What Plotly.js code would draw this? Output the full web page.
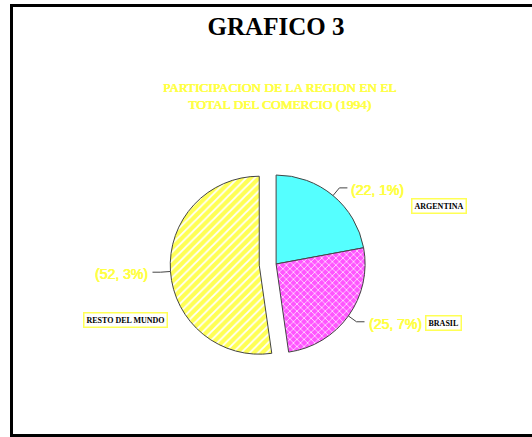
<!DOCTYPE html>
<html>
<head>
<meta charset="utf-8">
<script src="https://cdn.plot.ly/plotly-3.0.1.min.js"></script>
<style>
  html, body { margin: 0; padding: 0; background: #fff; overflow: hidden; }
  #frame { position: absolute; left: 10px; top: 4px; width: 600px; height: 427px;
           border-top: 3px solid #000; border-left: 3px solid #000; border-bottom: 3px solid #000; }
  #chart { position: absolute; left: 0; top: 0; width: 532px; height: 437px; }
</style>
</head>
<body>
<div id="frame"></div>
<div id="chart"></div>
<script>
// ---- data ----
const regions = ['ARGENTINA', 'BRASIL', 'RESTO DEL MUNDO'];
const shares = [22.1, 25.7, 52.3];
const sliceColors = ['#55ffff', '#ff55ff', '#ffff55'];
const slicePatterns = ['', 'x', '/'];
const slicePull = [0, 0, 0.19];
const chartTitle = 'GRAFICO 3';
const chartSubtitle = 'PARTICIPACION DE LA REGION EN EL<br>TOTAL DEL COMERCIO (1994)';

const shareText = shares.map(v => '(' + v.toFixed(1).replace('.', ', ') + '%)');

const W = 532, H = 437;
const dom = { x: [0.299, 0.739], y: [0.1535, 0.6382] };
const yellowText = '#ffff44';
const thicken = '0.5px 0 0 ' + yellowText + ', -0.3px 0 0 ' + yellowText;

const trace = {
  type: 'pie',
  labels: regions,
  values: shares,
  textinfo: 'none',
  sort: false,
  direction: 'clockwise',
  rotation: 0,
  pull: slicePull,
  marker: {
    colors: sliceColors,
    line: { color: '#444', width: 1 },
    pattern: {
      shape: slicePatterns,
      fgcolor: ['#ffffff', '#ffffff', '#ffffff'],
      bgcolor: sliceColors,
      size: [6, 5, 6],
      solidity: [0.2, 0.25, 0.3],
      fillmode: 'replace'
    }
  },
  domain: dom,
  hoverinfo: 'none'
};

// geometry of the pie as Plotly lays it out (centre, radius, pull)
const boxW = (dom.x[1] - dom.x[0]) * W, boxH = (dom.y[1] - dom.y[0]) * H;
const maxPull = Math.max(...slicePull);
const R = Math.min(boxW, boxH) / (2 + 2 * maxPull);
const CX = (dom.x[0] + dom.x[1]) / 2 * W;
const CY = H - (dom.y[0] + dom.y[1]) / 2 * H;
const total = shares.reduce((a, b) => a + b, 0);

const shapes = [];
const annotations = [];
let cum = 0;
shares.forEach((v, i) => {
  const mid = (cum + v / 2) / total * 2 * Math.PI;
  cum += v;
  const dx = Math.sin(mid), dy = -Math.cos(mid);
  const ox = CX + slicePull[i] * R * dx, oy = CY + slicePull[i] * R * dy;
  const px = ox + R * dx, py = oy + R * dy;
  const ex = px + 10 * dx, ey = py + 10 * dy;
  const side = dx >= 0 ? 1 : -1;
  const tx = ex + 8 * side, ty = ey;
  const fx = x => x / W, fy = y => 1 - y / H;
  shapes.push({
    type: 'path', xref: 'paper', yref: 'paper',
    path: `M ${fx(px)} ${fy(py)} L ${fx(ex)} ${fy(ey)} L ${fx(tx)} ${fy(ty)}`,
    line: { color: '#444', width: 1 }
  });
  annotations.push({
    text: shareText[i],
    xref: 'paper', yref: 'paper',
    x: fx(tx + 2 * side), y: fy(ty + 2),
    xanchor: side > 0 ? 'left' : 'right', yanchor: 'middle',
    showarrow: false,
    font: { family: 'Liberation Sans', size: 14, color: yellowText, shadow: thicken }
  });
});

const boxPos = { 'ARGENTINA': [0.826, 0.5275], 'BRASIL': [0.834, 0.261], 'RESTO DEL MUNDO': [0.235, 0.268] };
regions.forEach(r => annotations.push({
  text: '<b>' + r + '</b>',
  xref: 'paper', yref: 'paper',
  x: boxPos[r][0], y: boxPos[r][1],
  xanchor: 'center', yanchor: 'middle',
  showarrow: false,
  font: { family: 'Liberation Serif', size: 8, color: '#000' },
  bgcolor: '#ffffff',
  bordercolor: '#ffff55',
  borderwidth: 1.5,
  borderpad: 2
}));
annotations.push({
  text: chartSubtitle,
  xref: 'paper', yref: 'paper',
  x: 0.526, y: 1 - 96 / H,
  xanchor: 'center', yanchor: 'middle',
  showarrow: false,
  font: { family: 'Liberation Serif', size: 13.3, color: yellowText, shadow: thicken }
});

const layout = {
  width: W, height: H,
  margin: { l: 0, r: 0, t: 0, b: 0 },
  paper_bgcolor: 'rgba(0,0,0,0)',
  plot_bgcolor: 'rgba(0,0,0,0)',
  showlegend: false,
  title: {
    text: chartTitle,
    font: { family: 'Liberation Serif', size: 25, color: '#000', weight: 'bold' },
    x: 276 / W, y: 1 - 26 / H,
    xref: 'paper', yref: 'container',
    xanchor: 'center', yanchor: 'middle'
  },
  shapes: shapes,
  annotations: annotations
};

Plotly.newPlot('chart', [trace], layout, { displayModeBar: false, staticPlot: true });
</script>
</body>
</html>
